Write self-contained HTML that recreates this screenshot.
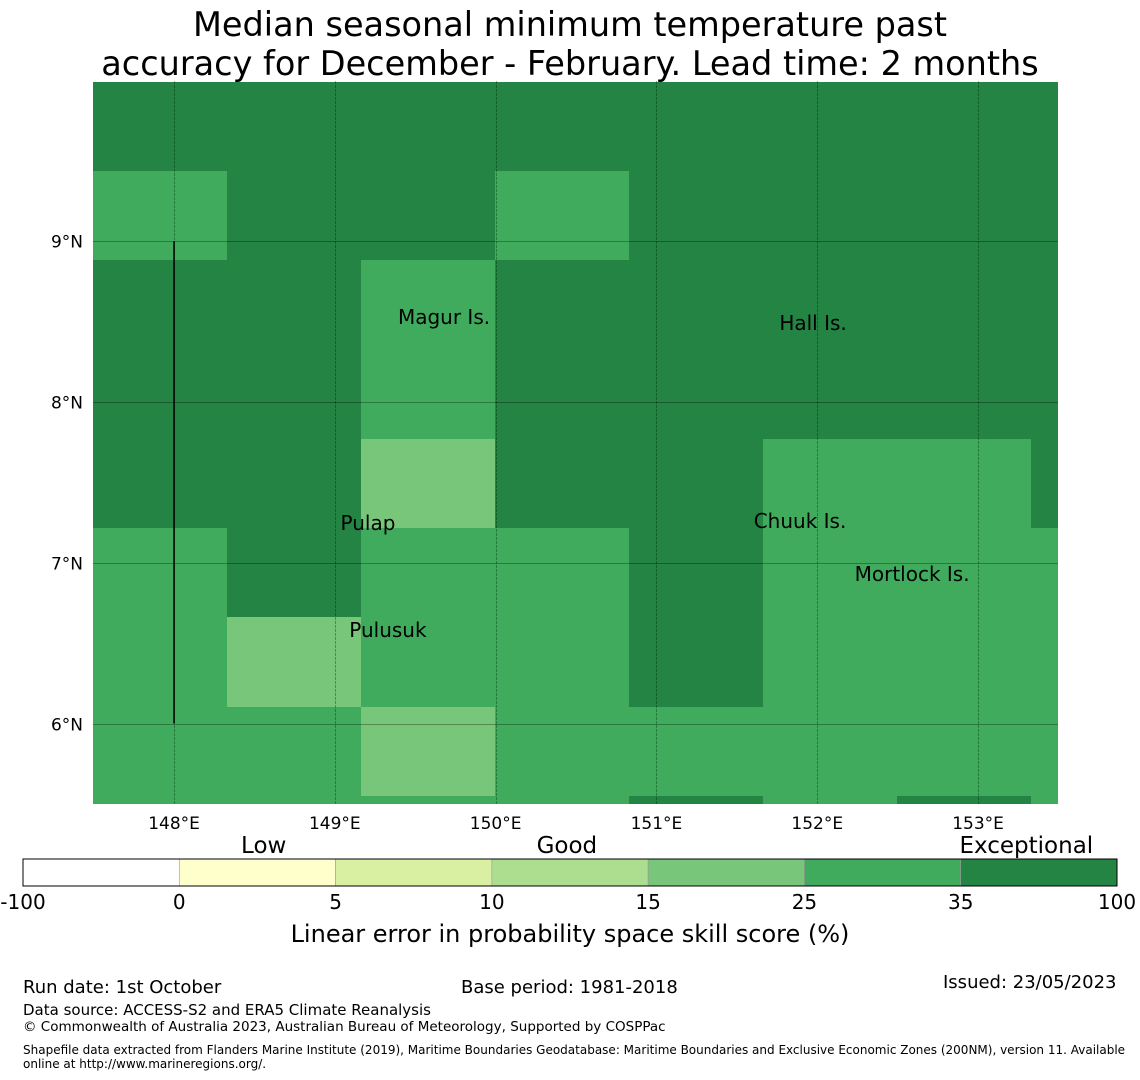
<!DOCTYPE html>
<html><head><meta charset="utf-8"><style>
body{margin:0;background:#fff;font-family:"DejaVu Sans","Liberation Sans",sans-serif;}
.t{position:absolute;white-space:nowrap;color:#000;}
</style></head><body>
<div style="position:relative;width:1140px;height:1080px;overflow:hidden">
<div class="t" style="left:0;width:1140px;text-align:center;top:5px;font-size:33.5px;line-height:39px">Median seasonal minimum temperature past<br>accuracy for December - February. Lead time: 2 months</div>
<svg id="map" width="1140" height="1080" style="position:absolute;left:0;top:0;font-family:'DejaVu Sans',sans-serif"></svg>
<div class="t" style="left:23px;top:977px;font-size:18px">Run date: 1st October</div>
<div class="t" style="left:461px;top:977px;font-size:18px">Base period: 1981-2018</div>
<div class="t" style="left:943px;top:972px;font-size:18px">Issued: 23/05/2023</div>
<div class="t" style="left:23px;top:1001px;font-size:15px">Data source: ACCESS-S2 and ERA5 Climate Reanalysis</div>
<div class="t" style="left:23px;top:1019px;font-size:13.5px">© Commonwealth of Australia 2023, Australian Bureau of Meteorology, Supported by COSPPac</div>
<div class="t" style="left:23px;top:1043px;font-size:12px;line-height:14px">Shapefile data extracted from Flanders Marine Institute (2019), Maritime Boundaries Geodatabase: Maritime Boundaries and Exclusive Economic Zones (200NM), version 11. Available<br>online at http://www.marineregions.org/.</div>
</div>
<script>
const lonTicks=[148,149,150,151,152,153];
const latTicks=[9,8,7,6];
const colors=["#238443","#41ab5d","#78c679"];
// grid rows top->bottom; 0=dark,1=medium,2=light
const gridRows=[
[0,0,0,0,0,0,0,0],
[1,0,0,1,0,0,0,0],
[0,0,1,0,0,0,0,0],
[0,0,1,0,0,0,0,0],
[0,0,2,0,0,1,1,0],
[1,0,1,1,0,1,1,1],
[1,2,1,1,0,1,1,1],
[1,1,2,1,1,1,1,1],
[1,1,1,1,0,1,0,1]];
const places=[["Magur Is.",149.679,8.485],["Hall Is.",151.974,8.447],["Pulap",149.206,7.204],["Chuuk Is.",151.893,7.216],["Mortlock Is.",152.59,6.887],["Pulusuk",149.33,6.538]];
const cbBounds=["-100","0","5","10","15","25","35","100"];
const cbColors=["#ffffff","#ffffcc","#d9f0a3","#addd8e","#78c679","#41ab5d","#238443"];
const cbLabels=[["Low",1.54],["Good",3.48],["Exceptional",6.42]];
const ns="http://www.w3.org/2000/svg",svg=document.getElementById("map");
const X0=93,X1=1058,Y0=81,Y1=804;
const lon0=147.496,lat0=9.996,ppd=160.8;
const xs=l=>X0+(l-lon0)*ppd, ys=l=>Y0+(lat0-l)*ppd;
function mk(t,a,p){const e=document.createElementNS(ns,t);for(const k in a)e.setAttribute(k,a[k]);(p||svg).appendChild(e);return e;}
const cw=134,chh=89.3,ry0=81.5;
gridRows.forEach((row,r)=>row.forEach((c,ci)=>{
 const x=Math.round(X0+ci*cw),y=Math.round(ry0+r*chh);
 const x2=Math.min(X1,Math.round(X0+(ci+1)*cw)),y2=Math.min(Y1,Math.round(ry0+(r+1)*chh));
 const e=mk("rect",{x:x,y:y,width:x2-x,height:y2-y,fill:colors[c],"shape-rendering":"crispEdges"});
 
 
}));
lonTicks.forEach(l=>{const x=Math.round(xs(l))+0.5;
 const g=mk("line",{x1:x,x2:x,y1:Y0,y2:Y1,stroke:"#000","stroke-opacity":0.3,"stroke-width":1,"stroke-dasharray":"3,1"});
 
 const t=mk("text",{x:xs(l),y:Y1+25,"text-anchor":"middle","font-size":17});t.textContent=l+"°E";
 });
latTicks.forEach(l=>{const y=Math.round(ys(l))+0.5;
 const g=mk("line",{x1:X0,x2:X1,y1:y,y2:y,stroke:"#000","stroke-opacity":0.3,"stroke-width":1});
 
 const t=mk("text",{x:X0-10,y:y+6,"text-anchor":"end","font-size":17});t.textContent=l+"°N";
 });
const bl=mk("line",{x1:xs(148),x2:xs(148),y1:ys(9),y2:ys(6),stroke:"#000","stroke-width":1.5});

places.forEach(p=>{const t=mk("text",{x:xs(p[1]),y:ys(p[2]),"text-anchor":"middle","font-size":20});t.textContent=p[0];
 });
// colorbar
const cx0=23,cx1=1117,cy=859,ch=27,sw=(cx1-cx0)/cbColors.length;
cbColors.forEach((c,i)=>{const r=mk("rect",{x:cx0+i*sw,y:cy,width:sw,height:ch,fill:c,stroke:"#999","stroke-width":0.6});
 });
mk("rect",{x:cx0,y:cy,width:cx1-cx0,height:ch,fill:"none",stroke:"#000","stroke-width":1});
cbBounds.forEach((b,i)=>{const t=mk("text",{x:cx0+i*sw,y:cy+ch+23,"text-anchor":"middle","font-size":20});t.textContent=b;
 });
cbLabels.forEach(l=>{const t=mk("text",{x:cx0+l[1]*sw,y:cy-6,"text-anchor":"middle","font-size":23});t.textContent=l[0];
 });
const ct=mk("text",{x:570,y:942,"text-anchor":"middle","font-size":24});ct.textContent="Linear error in probability space skill score (%)";

</script>
</body></html>
